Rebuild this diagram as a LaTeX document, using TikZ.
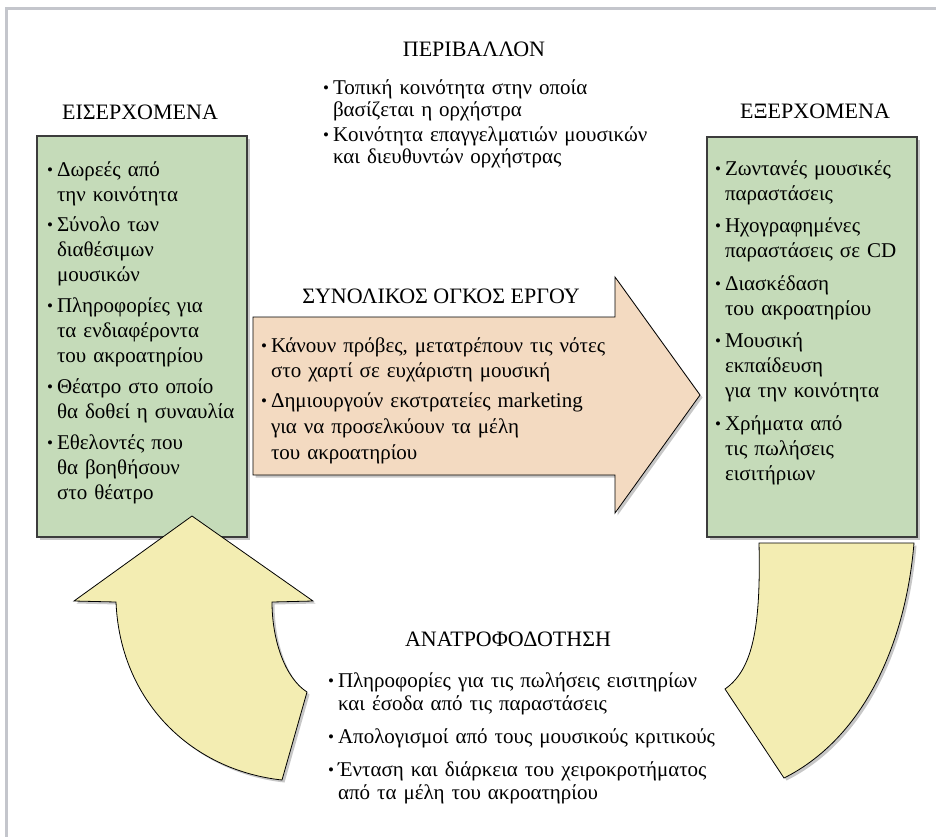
\documentclass[tikz,border=0pt]{standalone}
\usepackage{fontspec}
\setmainfont{Liberation Serif}
\usetikzlibrary{calc,shadows}

\definecolor{boxgreen}{RGB}{197,219,185}
\definecolor{workpeach}{RGB}{243,218,193}
\definecolor{fbyellow}{RGB}{243,237,178}
\definecolor{framegray}{RGB}{196,198,204}
\definecolor{edgegray}{RGB}{60,60,60}

\newcommand{\bul}{\makebox[10pt][l]{\raisebox{0.8pt}{\fontsize{17}{17}\selectfont\textbullet}}}
\newcommand{\nxt}{\hspace*{10pt}}

\begin{document}
\begin{tikzpicture}[x=1pt, y=-1pt,
    every node/.style={inner sep=0pt, outer sep=0pt},
    heading/.style={font=\fontsize{22}{25}\selectfont, anchor=base},
    list/.style={font=\fontsize{21}{25}\selectfont, anchor=base west, text width=420pt, align=left},
    shade/.style={drop shadow={shadow xshift=2.5pt, shadow yshift=-2.5pt, fill=black!22, opacity=1}},
    box/.style={draw=edgegray, line width=1.1pt, fill=boxgreen, shade},
    block/.style={draw=black, line width=0.8pt, shade}]
  \useasboundingbox (0,0) rectangle (936,836);
  \draw[framegray, line width=2.5pt] (6.5,900) -- (6.5,8.5) -- (1000,8.5);

  % boxes
  \node[box, minimum width=210pt, minimum height=401pt] (inbox) at (142,336.5) {};
  \node[box, minimum width=210pt, minimum height=400pt] (outbox) at (812,337) {};

  % work arrow
  \draw[block, fill=workpeach] (253,317) -- (615,317) -- (615,277) -- (700,395)
    -- (615,513) -- (615,475) -- (253,475) -- cycle;

  % feedback arrow
  \draw[block, fill=fbyellow] (192,516) -- (313,601) -- (272,602)
    .. controls (272,640) and (285,678) .. (307,692) -- (282,780)
    .. controls (190,770) and (120,700) .. (116,602) -- (74,601) -- cycle;
  \draw[block, fill=fbyellow] (759,543) -- (914,543)
    .. controls (905,650) and (860,740) .. (784,778) -- (725,689)
    .. controls (752,670) and (761,630) .. (759,543) -- cycle;

  % headings
  \draw (474,56) node[heading] (envtitle) {ΠΕΡΙΒΑΛΛΟΝ};
  \draw (140,119) node[heading] (intitle) {ΕΙΣΕΡΧΟΜΕΝΑ};
  \draw (815,118) node[heading] (outtitle) {ΕΞΕΡΧΟΜΕΝΑ};
  \draw (441,303) node[heading] (worktitle) {ΣΥΝΟΛΙΚΟΣ ΟΓΚΟΣ ΕΡΓΟΥ};
  \draw (508,646) node[heading] (fbtitle) {ΑΝΑΤΡΟΦΟΔΟΤΗΣΗ};

  % lists
  \draw (323,94) node[list] (envlist) {\bul Τοπική κοινότητα στην οποία\\[-3pt]
    \nxt βασίζεται η ορχήστρα\\[0pt]
    \bul Κοινότητα επαγγελματιών μουσικών\\[-3pt]
    \nxt και διευθυντών ορχήστρας};

  \draw (47,176) node[list] (inlist) {\bul Δωρεές από\\
    \nxt την κοινότητα\\[5.75pt]
    \bul Σύνολο των\\
    \nxt διαθέσιμων\\
    \nxt μουσικών\\[5.75pt]
    \bul Πληροφορίες για\\
    \nxt τα ενδιαφέροντα\\
    \nxt του ακροατηρίου\\[5.75pt]
    \bul Θέατρο στο οποίο\\
    \nxt θα δοθεί η συναυλία\\[5.75pt]
    \bul Εθελοντές που\\
    \nxt θα βοηθήσουν\\
    \nxt στο θέατρο};

  \draw (715,175) node[list] (outlist) {\bul Ζωντανές μουσικές\\
    \nxt παραστάσεις\\[7.5pt]
    \bul Ηχογραφημένες\\
    \nxt παραστάσεις σε CD\\[7.5pt]
    \bul Διασκέδαση\\
    \nxt του ακροατηρίου\\[7.5pt]
    \bul Μουσική\\
    \nxt εκπαίδευση\\
    \nxt για την κοινότητα\\[7.5pt]
    \bul Χρήματα από\\
    \nxt τις πωλήσεις\\
    \nxt εισιτήριων};

  \draw (261,352) node[list] (worklist) {\bul Κάνουν πρόβες, μετατρέπουν τις νότες\\
    \nxt στο χαρτί σε ευχάριστη μουσική\\[5pt]
    \bul Δημιουργούν εκστρατείες marketing\\[1pt]
    \nxt για να προσελκύουν τα μέλη\\[1pt]
    \nxt του ακροατηρίου};

  \draw (328,687) node[list] (fblist) {\bul Πληροφορίες για τις πωλήσεις εισιτηρίων\\[-2pt]
    \nxt και έσοδα από τις παραστάσεις\\[8pt]
    \bul Απολογισμοί από τους μουσικούς κριτικούς\\[8pt]
    \bul Ένταση και διάρκεια του χειροκροτήματος\\[-2pt]
    \nxt από τα μέλη του ακροατηρίου};
\end{tikzpicture}
\end{document}
